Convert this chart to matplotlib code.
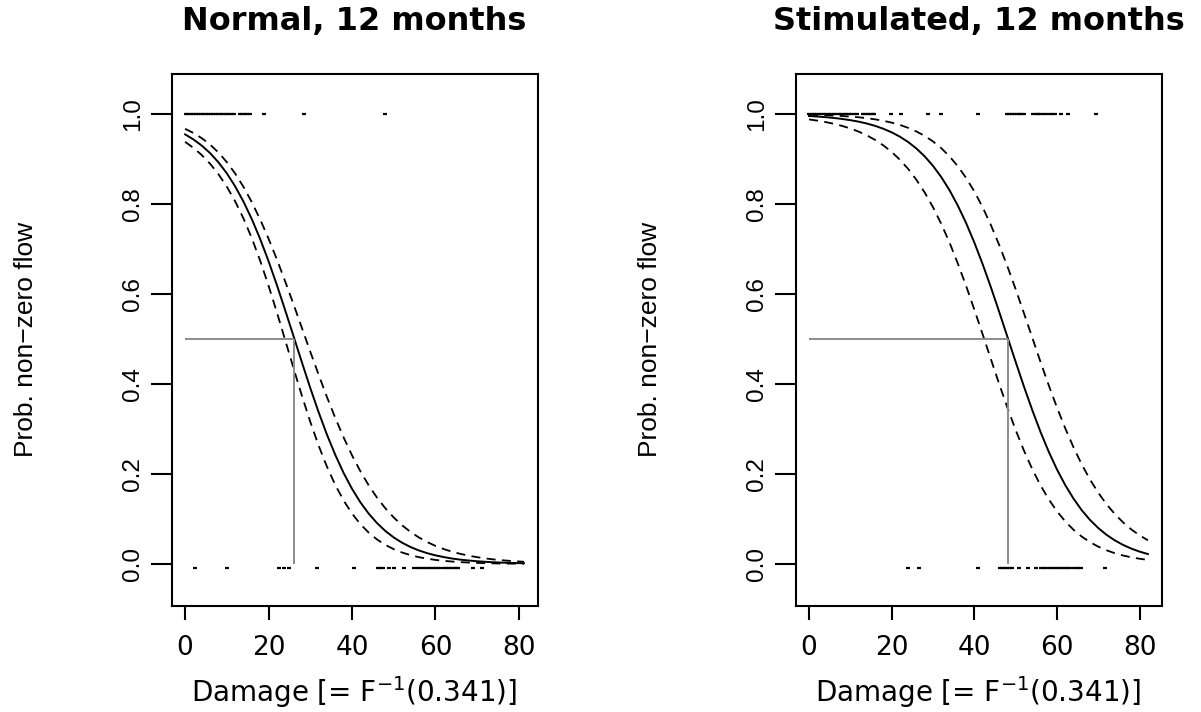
import numpy as np
import matplotlib.pyplot as plt

# fitted curves (damage -> probability of non-zero flow)
x_normal = [0, 2, 4, 6, 8, 10, 12, 14, 16, 18, 20, 22, 24, 26, 28, 30, 32,
            34, 36, 38, 40, 42, 44, 46, 48, 50, 52, 54, 56, 58, 60, 62, 64,
            66, 68, 70, 72, 74, 76, 78, 80, 81.2]
p_normal = [0.9548, 0.9436, 0.9298, 0.9131, 0.8927, 0.8683, 0.8393, 0.8053,
            0.7663, 0.7221, 0.6731, 0.6199, 0.5637, 0.5060, 0.4480, 0.3912,
            0.3374, 0.2874, 0.2423, 0.2021, 0.1671, 0.1372, 0.1119, 0.0908,
            0.0733, 0.0590, 0.0473, 0.0378, 0.0302, 0.0241, 0.0192, 0.0153,
            0.0121, 0.0096, 0.0077, 0.0061, 0.0048, 0.0038, 0.0030, 0.0024,
            0.0019, 0.0017]
hi_normal = [0.9671, 0.9579, 0.9463, 0.9320, 0.9145, 0.8932, 0.8678, 0.8381,
             0.8040, 0.7656, 0.7231, 0.6770, 0.6278, 0.5769, 0.5245, 0.4720,
             0.4207, 0.3710, 0.3245, 0.2811, 0.2416, 0.2062, 0.1748, 0.1474,
             0.1237, 0.1033, 0.0860, 0.0714, 0.0591, 0.0488, 0.0402, 0.0331,
             0.0272, 0.0224, 0.0184, 0.0151, 0.0123, 0.0101, 0.0083, 0.0068,
             0.0056, 0.0049]
lo_normal = [0.9382, 0.9248, 0.9088, 0.8894, 0.8662, 0.8386, 0.8060, 0.7678,
             0.7239, 0.6739, 0.6187, 0.5592, 0.4973, 0.4349, 0.3738, 0.3161,
             0.2631, 0.2162, 0.1755, 0.1410, 0.1122, 0.0887, 0.0696, 0.0545,
             0.0424, 0.0330, 0.0255, 0.0197, 0.0152, 0.0118, 0.0090, 0.0070,
             0.0054, 0.0041, 0.0032, 0.0024, 0.0019, 0.0014, 0.0011, 0.0008,
             0.0006, 0.0006]
x50_normal = 26.2

x_stim = [0, 2, 4, 6, 8, 10, 12, 14, 16, 18, 20, 22, 24, 26, 28, 30, 32,
          34, 36, 38, 40, 42, 44, 46, 48, 50, 52, 54, 56, 58, 60, 62, 64,
          66, 68, 70, 72, 74, 76, 78, 80, 82]
p_stim = [0.9955, 0.9944, 0.9930, 0.9912, 0.9890, 0.9863, 0.9830, 0.9788,
          0.9736, 0.9671, 0.9592, 0.9495, 0.9376, 0.9231, 0.9056, 0.8846,
          0.8597, 0.8305, 0.7964, 0.7577, 0.7142, 0.6664, 0.6149, 0.5605,
          0.5047, 0.4489, 0.3943, 0.3423, 0.2936, 0.2494, 0.2098, 0.1751,
          0.1451, 0.1193, 0.0977, 0.0797, 0.0647, 0.0524, 0.0423, 0.0341,
          0.0274, 0.0221]
hi_stim = [0.9983, 0.9979, 0.9973, 0.9965, 0.9955, 0.9943, 0.9927, 0.9907,
           0.9881, 0.9849, 0.9808, 0.9756, 0.9692, 0.9611, 0.9512, 0.9390,
           0.9240, 0.9057, 0.8839, 0.8580, 0.8278, 0.7928, 0.7532, 0.7091,
           0.6613, 0.6104, 0.5572, 0.5033, 0.4492, 0.3970, 0.3475, 0.3013,
           0.2590, 0.2210, 0.1874, 0.1580, 0.1326, 0.1109, 0.0923, 0.0766,
           0.0636, 0.0526]
lo_stim = [0.9879, 0.9853, 0.9821, 0.9782, 0.9735, 0.9678, 0.9608, 0.9525,
           0.9423, 0.9301, 0.9156, 0.8982, 0.8777, 0.8535, 0.8252, 0.7927,
           0.7556, 0.7140, 0.6677, 0.6180, 0.5651, 0.5105, 0.4551, 0.4001,
           0.3473, 0.2975, 0.2520, 0.2110, 0.1748, 0.1436, 0.1169, 0.0946,
           0.0760, 0.0608, 0.0484, 0.0384, 0.0304, 0.0239, 0.0188, 0.0148,
           0.0116, 0.0091]
x50_stim = 48.2

# observed damage values, split by flow / no flow
flow_normal = [0.2, 0.8, 1.4, 2.0, 2.6, 3.2, 3.8, 4.4, 5.0, 5.6, 6.2, 6.8,
               7.4, 8.0, 8.6, 9.2, 9.8, 10.4, 11.0, 11.7, 13.1, 13.7, 14.3,
               14.9, 15.5, 19.0, 28.6, 48.0]
noflow_normal = [2.4, 10.0, 22.4, 23.6, 24.8, 31.6, 40.5, 46.2, 46.8, 47.4,
                 48.8, 50.0, 52.4, 54.8, 55.7, 56.3, 56.9, 57.5, 58.1, 58.7,
                 59.3, 59.9, 60.5, 61.1, 62.0, 62.6, 63.2, 63.8, 64.4, 65.0,
                 65.5, 69.1, 71.1]
flow_stim = [0.0, 0.6, 1.2, 1.8, 2.4, 3.0, 3.6, 4.2, 4.8, 5.4, 6.0, 6.6, 7.2,
             7.8, 8.4, 9.0, 9.6, 10.2, 10.8, 11.7, 13.0, 13.6, 14.2, 14.8,
             15.4, 15.8, 19.8, 22.2, 28.7, 31.9, 40.8, 47.8, 48.4, 49.0, 49.6,
             50.2, 50.8, 51.4, 52.0, 54.2, 54.8, 55.4, 56.0, 56.6, 57.3, 58.2,
             58.8, 59.6, 61.0, 62.6, 69.5]
noflow_stim = [24.0, 26.5, 40.8, 46.2, 46.8, 47.4, 48.0, 48.6, 49.2, 50.9,
               52.9, 55.0, 56.2, 56.8, 57.4, 58.3, 58.9, 59.5, 60.1, 60.7,
               61.3, 61.9, 62.5, 63.0, 63.9, 64.5, 65.1, 65.8, 71.5]

titles = ["Normal, 12 months", "Stimulated, 12 months"]
xmax = [81.2, 82.0]

y_flow = 1.0
y_noflow = -0.01

W, H = 1201, 712
GRAY = "#8c8c8c"
DASH = (0, (5, 3.5))


def draw_panel(ax, title, x, p, lo, hi, x50, flow, noflow, xhi):
    ax.plot(flow, np.full(len(flow), y_flow), ls="none", marker="_",
            ms=2.6, mew=1.6, color="black")
    ax.plot(noflow, np.full(len(noflow), y_noflow), ls="none", marker="_",
            ms=2.6, mew=1.6, color="black")

    ax.plot(x, p, color="black", lw=1.4)
    ax.plot(x, lo, color="black", lw=1.3, ls=DASH)
    ax.plot(x, hi, color="black", lw=1.3, ls=DASH)

    ax.hlines(0.5, 0, x50, color=GRAY, lw=1.4)
    ax.vlines(x50, 0, 0.5, color=GRAY, lw=1.4)

    pad = 0.04 * xhi
    ax.set_xlim(-pad, xhi + pad)
    ax.set_ylim(-0.0927, 1.0889)

    ax.set_xticks([0, 20, 40, 60, 80])
    ax.set_yticks([0.0, 0.2, 0.4, 0.6, 0.8, 1.0])
    ax.set_yticklabels(["0.0", "0.2", "0.4", "0.6", "0.8", "1.0"])
    ax.tick_params(axis="x", direction="out", length=10, width=1.5, pad=11,
                   labelsize=19)
    ax.tick_params(axis="y", direction="out", length=15, width=1.5, pad=5,
                   labelrotation=90)
    for lab in ax.get_yticklabels():
        lab.set_fontfamily("Liberation Sans")
        lab.set_fontsize(17.5)
        lab.set_va("center")

    for sp in ax.spines.values():
        sp.set_linewidth(1.5)

    ax.set_title(title, fontsize=23, fontweight="bold", y=1.098, pad=0,
                 va="center")
    ax.set_xlabel(r"Damage [= F$^{-1}$(0.341)]", fontsize=20, va="center")
    ax.xaxis.set_label_coords(0.5, -0.1623)
    ax.set_ylabel("Prob. non\u2212zero flow", family="Liberation Sans",
                  fontsize=19, va="center")
    ax.yaxis.set_label_coords(-0.397, 0.5)


def main():
    fig = plt.figure(figsize=(W / 100, H / 100), dpi=100)

    bottom = 1 - 605.7 / H
    height = 531.7 / H
    ax1 = fig.add_axes([171.5 / W, bottom, 366 / W, height])
    ax2 = fig.add_axes([795.5 / W, bottom, 366 / W, height])

    draw_panel(ax1, titles[0], x_normal, p_normal, lo_normal, hi_normal,
               x50_normal, flow_normal, noflow_normal, xmax[0])
    draw_panel(ax2, titles[1], x_stim, p_stim, lo_stim, hi_stim,
               x50_stim, flow_stim, noflow_stim, xmax[1])

    fig.savefig("out.png", dpi=100)


if __name__ == "__main__":
    main()
